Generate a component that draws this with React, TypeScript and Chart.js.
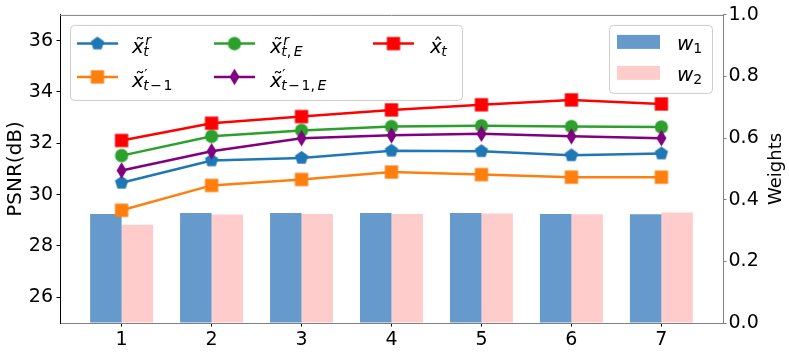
import React, { useEffect, useRef } from 'react';
import { Chart, registerables } from 'chart.js';

Chart.register(...registerables);

// ---------------- data ----------------
const CATEGORIES = [1, 2, 3, 4, 5, 6, 7];
const X_TILDE_R = [30.46, 31.33, 31.43, 31.71, 31.69, 31.53, 31.6];
const X_TILDE_PREV = [29.39, 30.36, 30.59, 30.88, 30.78, 30.68, 30.68];
const X_TILDE_R_E = [31.52, 32.27, 32.5, 32.65, 32.68, 32.65, 32.63];
const X_TILDE_PREV_E = [30.94, 31.69, 32.2, 32.31, 32.37, 32.27, 32.2];
const X_HAT = [32.11, 32.78, 33.04, 33.3, 33.5, 33.69, 33.53];
const W1 = [0.354, 0.357, 0.357, 0.357, 0.357, 0.354, 0.353];
const W2 = [0.319, 0.352, 0.354, 0.354, 0.355, 0.353, 0.359];

const PSNR_TICKS = [26, 28, 30, 32, 34, 36];
const WEIGHT_TICKS = [0, 0.2, 0.4, 0.6, 0.8, 1.0];

const LEFT_TITLE = 'PSNR(dB)';
const RIGHT_TITLE = 'Weights';

// legend labels (mathtext-like): base, accent, superscript, subscript
const SERIES_LABELS = ['x̃_t^r', "x̃'_{t-1}", 'x̃_{t,E}^r', "x̃'_{t-1,E}", 'x̂_t'];
const SERIES_ACCENT = ['~', '~', '~', '~', '^'];
const SERIES_SUP = ['r', '′', 'r', '′', ''];
const SERIES_SUB = ['t', 't−1', 't,E', 't−1,E', 't'];
const BAR_LABELS = ['w_1', 'w_2'];
const BAR_BASE = ['w', 'w'];
const BAR_SUB = ['1', '2'];

// ---------------- styles ----------------
const FONT = '"DejaVu Sans", sans-serif';
const C_BLUE = '#1f77b4';
const C_ORANGE = '#ff7f0e';
const C_GREEN = '#2ca02c';
const C_PURPLE = '#800080';
const C_RED = '#ff0000';
const C_W1 = '#6699cc';
const C_W2 = '#ffcccc';

function makeMarker(kind: string, color: string, w: number, h: number): HTMLCanvasElement {
  const c = document.createElement('canvas');
  const S = Math.ceil(Math.max(w, h)) + 2;
  c.width = S;
  c.height = S;
  const ctx = c.getContext('2d')!;
  ctx.fillStyle = color;
  const cx = S / 2;
  const cy = S / 2;
  ctx.beginPath();
  if (kind === 'square') {
    ctx.rect(cx - w / 2, cy - h / 2, w, h);
  } else if (kind === 'circle') {
    ctx.arc(cx, cy, w / 2, 0, Math.PI * 2);
  } else if (kind === 'diamond') {
    ctx.moveTo(cx, cy - h / 2);
    ctx.lineTo(cx + w / 2, cy);
    ctx.lineTo(cx, cy + h / 2);
    ctx.lineTo(cx - w / 2, cy);
    ctx.closePath();
  } else if (kind === 'pentagon') {
    const r = w / 1.902;
    for (let i = 0; i < 5; i++) {
      const a = -Math.PI / 2 + (i * 2 * Math.PI) / 5;
      const px = cx + r * Math.cos(a);
      const py = cy + r * Math.sin(a);
      if (i === 0) ctx.moveTo(px, py);
      else ctx.lineTo(px, py);
    }
    ctx.closePath();
  }
  ctx.fill();
  return c;
}

function drawSub(ctx: CanvasRenderingContext2D, text: string, x: number, y: number, size: number) {
  let cx = x;
  for (const ch of text) {
    const isLetter = /[A-Za-z]/.test(ch);
    ctx.font = `${isLetter ? 'italic ' : ''}${size}px ${FONT}`;
    if (ch === '−') cx += 1.5;
    ctx.fillText(ch, cx, y);
    cx += ctx.measureText(ch).width;
    if (ch === '−') cx += 1.5;
    if (ch === ',') cx += 2.5;
  }
}

function drawMathLabel(
  ctx: CanvasRenderingContext2D,
  x: number,
  baseY: number,
  base: string,
  accent: string,
  sup: string,
  sub: string
) {
  ctx.textAlign = 'left';
  ctx.textBaseline = 'alphabetic';
  ctx.fillStyle = '#000';
  ctx.font = `italic 20px ${FONT}`;
  ctx.fillText(base, x, baseY);
  const bw = ctx.measureText(base).width;
  if (accent) {
    ctx.font = `20px ${FONT}`;
    const ch = accent === '~' ? '\u02DC' : '\u02C6';
    const aw = ctx.measureText(ch).width;
    ctx.fillText(ch, x + bw / 2 - aw / 2 + 2, baseY - 1);
  }
  if (sup) {
    ctx.font = `${sup === '′' ? '' : 'italic '}14px ${FONT}`;
    ctx.fillText(sup, x + bw + (sup === '′' ? 0.5 : 1.5), baseY - 8);
  }
  if (sub) {
    drawSub(ctx, sub, x + bw - 0.5, baseY + (sup ? 3 : 2.5), 14);
  }
}

function roundRect(ctx: CanvasRenderingContext2D, x: number, y: number, w: number, h: number, r: number) {
  ctx.beginPath();
  ctx.moveTo(x + r, y);
  ctx.lineTo(x + w - r, y);
  ctx.quadraticCurveTo(x + w, y, x + w, y + r);
  ctx.lineTo(x + w, y + h - r);
  ctx.quadraticCurveTo(x + w, y + h, x + w - r, y + h);
  ctx.lineTo(x + r, y + h);
  ctx.quadraticCurveTo(x, y + h, x, y + h - r);
  ctx.lineTo(x, y + r);
  ctx.quadraticCurveTo(x, y, x + r, y);
  ctx.closePath();
}

export default function App() {
  const ref = useRef<HTMLCanvasElement>(null);

  useEffect(() => {
    const markers = [
      makeMarker('pentagon', C_BLUE, 13.3, 13.3),
      makeMarker('square', C_ORANGE, 13.3, 13.3),
      makeMarker('circle', C_GREEN, 13.3, 13.3),
      makeMarker('diamond', C_PURPLE, 10, 16.7),
      makeMarker('square', C_RED, 13.3, 13.3),
    ];
    const seriesData = [X_TILDE_R, X_TILDE_PREV, X_TILDE_R_E, X_TILDE_PREV_E, X_HAT];
    const seriesColors = [C_BLUE, C_ORANGE, C_GREEN, C_PURPLE, C_RED];
    const lineOrder = [4, 3, 2, 1, 0];

    const lineDatasets = seriesData.map((d, k) => ({
      type: 'line' as const,
      label: SERIES_LABELS[k],
      data: CATEGORIES.map((c, i) => ({ x: c, y: d[i] })),
      borderColor: seriesColors[k],
      backgroundColor: seriesColors[k],
      borderWidth: 2.5,
      pointStyle: markers[k],
      pointRadius: 7,
      pointHoverRadius: 7,
      tension: 0,
      xAxisID: 'x',
      yAxisID: 'y',
      order: lineOrder[k],
    }));

    const barDatasets = [W1, W2].map((d, k) => ({
      type: 'bar' as const,
      label: BAR_LABELS[k],
      data: CATEGORIES.map((c, i) => ({ x: c, y: d[i] })),
      backgroundColor: k === 0 ? C_W1 : C_W2,
      borderWidth: 0,
      barPercentage: 1,
      categoryPercentage: 0.7,
      grouped: true,
      xAxisID: 'x',
      yAxisID: 'y2',
      order: 10 + k,
    }));

    const decorPlugin = {
      id: 'decor',
      afterDraw(chart: any) {
        const ctx: CanvasRenderingContext2D = chart.ctx;
        const a = chart.chartArea;
        ctx.save();
        // top spine
        ctx.strokeStyle = '#808080';
        ctx.lineWidth = 1;
        ctx.beginPath();
        ctx.moveTo(a.left, a.top + 0.5);
        ctx.lineTo(a.right, a.top + 0.5);
        ctx.stroke();

        // right axis title (reads bottom-to-top)
        ctx.save();
        ctx.translate(a.right + 53.5, (a.top + a.bottom) / 2);
        ctx.rotate(-Math.PI / 2);
        ctx.font = `18px ${FONT}`;
        ctx.fillStyle = '#000';
        ctx.textAlign = 'center';
        ctx.textBaseline = 'middle';
        ctx.fillText(RIGHT_TITLE, 0, 0);
        ctx.restore();

        // ---- legend 1 (lines) ----
        const L1x = a.left + 10;
        const L1y = a.top + 10;
        roundRect(ctx, L1x + 0.5, L1y + 0.5, 392, 75, 4);
        ctx.fillStyle = 'rgba(255,255,255,0.8)';
        ctx.fill();
        ctx.strokeStyle = '#cccccc';
        ctx.lineWidth = 1;
        ctx.stroke();
        const colX = [7, 144, 303];
        const rowY = [18.7, 52];
        const textOff = [55, 56, 57];
        for (let k = 0; k < SERIES_LABELS.length; k++) {
          const col = Math.floor(k / 2);
          const row = k % 2;
          const lx = L1x + colX[col];
          const ly = L1y + rowY[row];
          ctx.strokeStyle = seriesColors[k];
          ctx.lineWidth = 2.5;
          ctx.beginPath();
          ctx.moveTo(lx, ly);
          ctx.lineTo(lx + 41, ly);
          ctx.stroke();
          const m = markers[k];
          ctx.drawImage(m, lx + 20.5 - m.width / 2, ly - m.height / 2);
          drawMathLabel(
            ctx,
            lx + textOff[col],
            ly + (row === 0 ? 9.5 : 10.5),
            'x',
            SERIES_ACCENT[k],
            SERIES_SUP[k],
            SERIES_SUB[k]
          );
        }

        // ---- legend 2 (bars) ----
        const L2w = 103;
        const L2x = a.right - 11 - L2w;
        const L2y = a.top + 10;
        roundRect(ctx, L2x + 0.5, L2y + 0.5, L2w, 68, 4);
        ctx.fillStyle = 'rgba(255,255,255,0.8)';
        ctx.fill();
        ctx.strokeStyle = '#cccccc';
        ctx.lineWidth = 1;
        ctx.stroke();
        const barRows = [17, 48];
        for (let k = 0; k < 2; k++) {
          const cy = L2y + barRows[k];
          ctx.fillStyle = k === 0 ? C_W1 : C_W2;
          ctx.fillRect(L2x + 8, cy - 7, 43, 14);
          ctx.fillStyle = '#000';
          drawMathLabel(ctx, L2x + 68, cy + 8, BAR_BASE[k], '', '', '');
          ctx.font = `italic 20px ${FONT}`;
          const ww = ctx.measureText(BAR_BASE[k]).width;
          ctx.font = `14px ${FONT}`;
          ctx.fillText(BAR_SUB[k], L2x + 68 + ww, cy + 10.7);
        }
        ctx.restore();
      },
    };

    const tickFont = { family: FONT, size: 19 };

    const chart = new Chart(ref.current!, {
      type: 'bar',
      data: { datasets: [...lineDatasets, ...barDatasets] as any },
      plugins: [decorPlugin as any],
      options: {
        animation: false,
        responsive: false,
        devicePixelRatio: 1,
        layout: { padding: { top: 13, left: 0, right: 0, bottom: 0 }, autoPadding: false },
        plugins: { legend: { display: false }, tooltip: { enabled: false } },
        scales: {
          x: {
            type: 'linear',
            position: 'bottom',
            min: 0.315,
            max: 7.685,
            offset: false,
            afterBuildTicks: (s: any) => {
              s.ticks = CATEGORIES.map((v) => ({ value: v }));
            },
            afterFit: (s: any) => {
              s.height = 31;
            },
            grid: {
              offset: false,
              drawOnChartArea: false,
              drawTicks: true,
              tickLength: 3.5,
              color: '#000',
              lineWidth: 1,
            },
            border: { display: true, color: '#808080', width: 1 },
            ticks: {
              font: tickFont,
              color: '#000',
              padding: 2,
              maxRotation: 0,
              autoSkip: false,
              callback: (v: any) => String(v),
            },
          },
          y: {
            type: 'linear',
            position: 'left',
            min: 25,
            max: 37,
            afterBuildTicks: (s: any) => {
              s.ticks = PSNR_TICKS.map((v) => ({ value: v }));
            },
            afterFit: (s: any) => {
              s.width = 60;
            },
            grid: {
              offset: false,
              drawOnChartArea: false,
              drawTicks: true,
              tickLength: 3.5,
              color: '#000',
              lineWidth: 1,
            },
            border: { display: true, color: '#000', width: 1 },
            ticks: { font: tickFont, color: '#000', padding: 3.5, callback: (v: any) => String(v) },
            title: {
              display: true,
              text: LEFT_TITLE,
              font: { family: FONT, size: 20 },
              color: '#000',
              padding: { top: 4, bottom: 0 },
            },
          },
          y2: {
            type: 'linear',
            position: 'right',
            min: 0,
            max: 1,
            afterBuildTicks: (s: any) => {
              s.ticks = WEIGHT_TICKS.map((v) => ({ value: v }));
            },
            afterFit: (s: any) => {
              s.width = 66;
            },
            grid: {
              offset: false,
              drawOnChartArea: false,
              drawTicks: true,
              tickLength: 3.5,
              color: '#808080',
              lineWidth: 1,
            },
            border: { display: true, color: '#808080', width: 1 },
            ticks: { font: tickFont, color: '#000', padding: 2, callback: (v: any) => Number(v).toFixed(1) },
          },
        },
      } as any,
    });
    return () => chart.destroy();
  }, []);

  return (
    <div style={{ position: 'absolute', left: 0, top: 0, width: 789, height: 354, background: '#fff' }}>
      <canvas ref={ref} width={789} height={354} style={{ display: 'block', width: 789, height: 354 }} />
    </div>
  );
}
